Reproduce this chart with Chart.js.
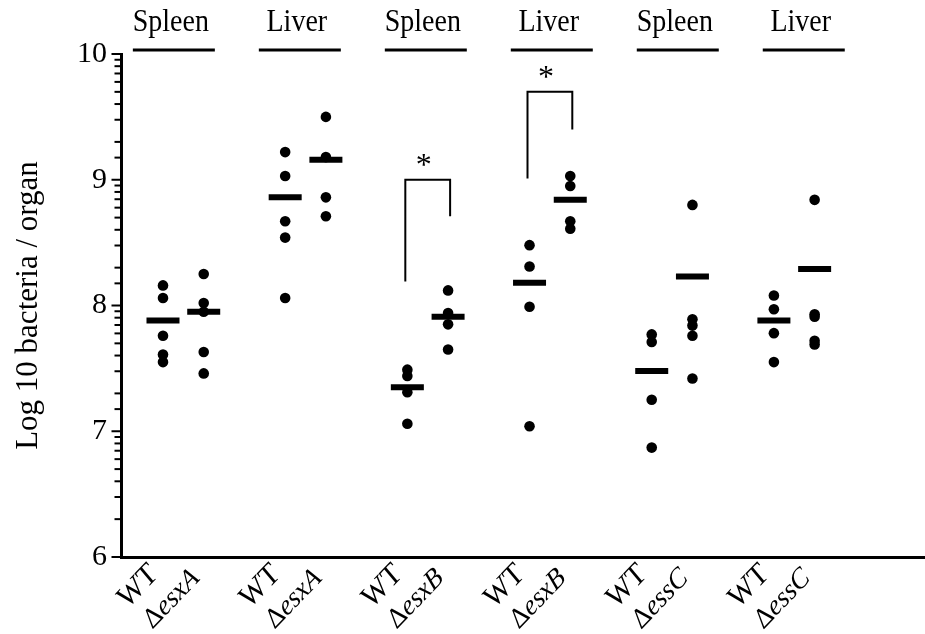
<!DOCTYPE html>
<html>
<head>
<meta charset="utf-8">
<script src="https://cdn.jsdelivr.net/npm/chart.js@4.4.1/dist/chart.umd.min.js"></script>
<style>
  html, body { margin: 0; padding: 0; background: #fff; }
</style>
</head>
<body>
<canvas id="cfuChart" width="925" height="634"></canvas>
<script>
// organ and mutant strain for each pair of columns
const organs = ['Spleen', 'Liver', 'Spleen', 'Liver', 'Spleen', 'Liver'];
const mutants = ['esxA', 'esxA', 'esxB', 'esxB', 'essC', 'essC'];

// log10 bacteria / organ, one row per group
const wtLog = [
  [8.16, 8.06, 7.76, 7.61, 7.55],
  [9.22, 9.03, 8.67, 8.54, 8.06],
  [7.49, 7.44, 7.31, 7.06],
  [8.48, 8.31, 7.99, 7.04],
  [7.77, 7.71, 7.25, 6.87],
  [8.08, 7.97, 7.78, 7.55]
];
const mutantLog = [
  [8.25, 8.02, 7.95, 7.63, 7.46],
  [9.50, 9.18, 8.86, 8.71],
  [8.12, 7.94, 7.85, 7.65],
  [9.03, 8.95, 8.67, 8.61],
  [8.80, 7.89, 7.84, 7.76, 7.42],
  [8.84, 7.93, 7.91, 7.72, 7.69]
];
const wtMeanLog = [7.88, 8.86, 7.35, 8.18, 7.48, 7.88];
const mutantMeanLog = [7.95, 9.16, 7.91, 8.84, 8.23, 8.29];

// significance brackets (group index, arm ends and top, log10)
const sigGroups = [2, 3];
const sigWtEnd = [8.19, 9.01];
const sigMutEnd = [8.71, 9.40];
const sigTop = [9.0, 9.7];

const yTickLabels = ['6', '7', '8', '9', '10'];

const serif = "'Liberation Serif', 'Times New Roman', serif";
const toRaw = v => Math.pow(10, v);

const pts = (rows, off) => rows.flatMap((r, g) => r.map(v => ({ x: 3 * g + off, y: toRaw(v) })));
const means = (arr, off) => arr.map((v, g) => ({ x: 3 * g + off, y: toRaw(v) }));

const brackets = sigGroups.map((g, i) => ({
  data: [
    { x: 3 * g - 0.05, y: toRaw(sigWtEnd[i]) },
    { x: 3 * g - 0.05, y: toRaw(sigTop[i]) },
    { x: 3 * g + 1.05, y: toRaw(sigTop[i]) },
    { x: 3 * g + 1.05, y: toRaw(sigMutEnd[i]) }
  ],
  showLine: true,
  borderColor: '#000',
  borderWidth: 2,
  pointRadius: 0,
  fill: false
}));

const meanStyle = {
  pointStyle: 'line',
  pointRadius: 16.5,
  pointBorderWidth: 6,
  pointBorderColor: '#000',
  pointBackgroundColor: '#000'
};
const dotStyle = {
  pointStyle: 'circle',
  pointRadius: 5.3,
  pointBorderWidth: 0,
  pointBackgroundColor: '#000'
};

const isDecade = v => Math.abs(Math.log10(v) - Math.round(Math.log10(v))) < 1e-6;

const decorations = {
  id: 'decorations',
  afterDraw(chart) {
    const { ctx, chartArea, scales: { x, y } } = chart;
    ctx.save();
    ctx.fillStyle = '#000';
    ctx.strokeStyle = '#000';

    // y axis tick marks (long at decades, short in between)
    ctx.lineWidth = 2;
    y.ticks.forEach(t => {
      const py = y.getPixelForValue(t.value);
      const len = isDecade(t.value) ? 8 : 5;
      ctx.beginPath();
      ctx.moveTo(chartArea.left - 1.5 - len, py);
      ctx.lineTo(chartArea.left, py);
      ctx.stroke();
    });

    // organ headers
    ctx.textAlign = 'center';
    ctx.textBaseline = 'alphabetic';
    ctx.lineWidth = 3;
    organs.forEach((o, g) => {
      const cx = x.getPixelForValue(3 * g + 0.5) + (g - 2.5) * 3.8;
      ctx.save();
      ctx.translate(cx - 3, 31);
      ctx.scale(1, 1.12);
      ctx.font = '28px ' + serif;
      ctx.fillText(o, 0, 0);
      ctx.restore();
      ctx.beginPath();
      ctx.moveTo(cx - 41, 50);
      ctx.lineTo(cx + 41, 50);
      ctx.stroke();
    });

    // asterisks over brackets
    ctx.font = '32px ' + serif;
    sigGroups.forEach((g, i) => {
      const cx = (x.getPixelForValue(3 * g - 0.05) + x.getPixelForValue(3 * g + 1.05)) / 2 - 4;
      const top = y.getPixelForValue(toRaw(sigTop[i]));
      ctx.fillText('*', cx, top - 20 + 15);
    });

    // rotated group labels under the axis
    const tilt = -43 * Math.PI / 180;
    mutants.forEach((m, g) => {
      const pWT = x.getPixelForValue(3 * g);
      const pMut = x.getPixelForValue(3 * g + 1);

      ctx.save();
      ctx.translate(pWT - 9, 570);
      ctx.scale(1, 1.12);
      ctx.rotate(tilt);
      ctx.textAlign = 'right';
      ctx.textBaseline = 'middle';
      ctx.font = '28px ' + serif;
      ctx.fillText('WT', 0, 0);
      ctx.restore();

      ctx.save();
      ctx.translate(pMut - 8, 574);
      ctx.scale(1, 1.12);
      ctx.rotate(tilt);
      ctx.textAlign = 'right';
      ctx.textBaseline = 'middle';
      ctx.font = 'italic 26px ' + serif;
      ctx.fillText(m, 0, 0);
      const w = ctx.measureText(m).width;
      ctx.font = '26px ' + serif;
      ctx.fillText('\u0394', -w, 0);
      ctx.restore();
    });

    ctx.restore();
  }
};

new Chart(document.getElementById('cfuChart').getContext('2d'), {
  type: 'scatter',
  data: {
    datasets: [
      { data: means(wtMeanLog, 0), ...meanStyle },
      { data: means(mutantMeanLog, 1), ...meanStyle },
      { data: pts(wtLog, 0), ...dotStyle },
      { data: pts(mutantLog, 1), ...dotStyle },
      ...brackets
    ]
  },
  options: {
    responsive: false,
    animation: false,
    layout: { autoPadding: false, padding: { top: 54, right: 0, bottom: 0, left: 0 } },
    plugins: {
      legend: { display: false },
      tooltip: { enabled: false }
    },
    scales: {
      x: {
        type: 'linear',
        min: -1.031,
        max: 18.71,
        grid: { display: false },
        border: { display: true, color: '#000', width: 3 },
        ticks: { display: false },
        afterFit: s => { s.height = 77; }
      },
      y: {
        type: 'logarithmic',
        min: 1e6,
        max: 1e10,
        grid: { display: false },
        border: { display: true, color: '#000', width: 3 },
        ticks: {
          autoSkip: false,
          padding: 6,
          color: '#000',
          font: { family: serif, size: 30 },
          callback: v => isDecade(v) ? yTickLabels[Math.round(Math.log10(v)) - 6] : ''
        },
        title: {
          display: true,
          text: 'Log 10 bacteria / organ',
          color: '#000',
          font: { family: serif, size: 31 },
          padding: { top: 10, bottom: 0 }
        },
        afterFit: s => { s.width = 121; }
      }
    }
  },
  plugins: [decorations]
});
</script>
</body>
</html>
